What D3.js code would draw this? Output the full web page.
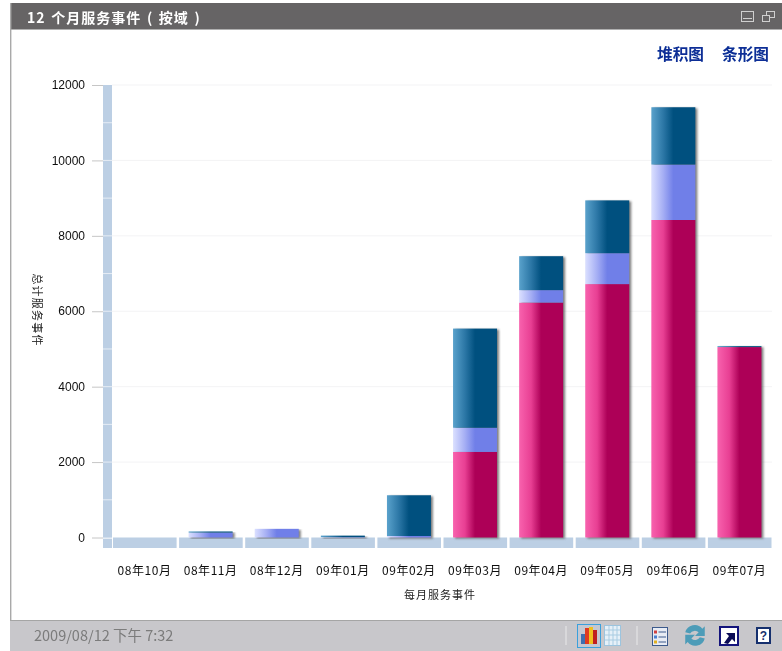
<!DOCTYPE html>
<html><head><meta charset="utf-8">
<script src="https://cdn.jsdelivr.net/npm/d3@7"></script>
<style>html,body{margin:0;padding:0;background:#fff;overflow:hidden}svg{display:block}</style>
</head><body><div id="c"></div>
<script>
const months=["08年10月","08年11月","08年12月","09年01月","09年02月","09年03月","09年04月","09年05月","09年06月","09年07月"];
const pinkValues=[0,0,0,0,0,2270,6230,6720,8420,5050];
const midValues=[0,130,230,10,40,640,330,820,1470,0];
const darkValues=[0,30,0,40,1080,2630,900,1400,1520,25];
const yTicks=[0,2000,4000,6000,8000,10000,12000];
const wallTicks=[1000,3000,5000,7000,9000,11000];
const chartTitle="12 个月服务事件 ( 按域 )";
const yTitle="总计服务事件";
const xTitle="每月服务事件";
const stamp="2009/08/12 下午 7:32";
const links=["堆积图","条形图"];

const W=782,H=651;
const svg=d3.select("#c").append("svg").attr("width",W).attr("height",H);
const defs=svg.append("defs");
const cjk="'Noto Sans CJK SC','Liberation Sans',sans-serif";
const lat="'Liberation Sans','Noto Sans CJK SC',sans-serif";
function grad(id,a,m,b){
  const g=defs.append("linearGradient").attr("id",id).attr("x1",0).attr("x2",1).attr("y1",0).attr("y2",0);
  g.append("stop").attr("offset",0).attr("stop-color",a);
  g.append("stop").attr("offset",.27).attr("stop-color",m);
  g.append("stop").attr("offset",.5).attr("stop-color",b);
  g.append("stop").attr("offset",1).attr("stop-color",b);
}
grad("gPink","#f862ae","#e83f93","#ad0057");
grad("gMid","#dbe0ff","#a5aef4","#707fe8");
grad("gDark","#5aa2cc","#2c77a6","#00507f");
const sh=defs.append("filter").attr("id","sh").attr("x","-20%").attr("y","-5%").attr("width","140%").attr("height","110%");
sh.append("feGaussianBlur").attr("stdDeviation",1.2);
const soft=defs.append("filter").attr("id","soft");
soft.append("feGaussianBlur").attr("stdDeviation",.35);

// frame
svg.append("rect").attr("x",10).attr("y",3).attr("width",772).attr("height",26).attr("fill","#666465");
svg.append("rect").attr("x",10).attr("y",29).attr("width",772).attr("height",1).attr("fill","#b0b0b0");
svg.append("rect").attr("x",10).attr("y",3).attr("width",1.4).attr("height",648).attr("fill","#a9a9a9");
svg.append("rect").attr("x",10).attr("y",620).attr("width",772).attr("height",31).attr("fill","#c8c7cb");
svg.append("rect").attr("x",10).attr("y",620).attr("width",772).attr("height",1).attr("fill","#a5a5a5");
const t=svg.append("g").attr("filter","url(#soft)");
t.append("text").attr("x",27).attr("y",23).attr("font-family",cjk).attr("font-weight",700).attr("font-size",14).attr("word-spacing",1.5).attr("letter-spacing",1).attr("fill","#fff").text(chartTitle);
t.append("text").attr("x",34).attr("y",641).attr("font-family",cjk).attr("font-size",14.5).attr("fill","#7b7b7b").text(stamp);

// window buttons
const wb=svg.append("g").attr("fill","none").attr("stroke","#cfcfcf").attr("stroke-width",1);
wb.append("rect").attr("x",741.5).attr("y",11.5).attr("width",12).attr("height",10);
wb.append("path").attr("d","M743 18.5H752");
wb.append("rect").attr("x",766.5).attr("y",11.5).attr("width",8).attr("height",6);
wb.append("rect").attr("x",762.5).attr("y",15.5).attr("width",7).attr("height",6).attr("fill","#666465");

// links
t.selectAll(".lnk").data(links).join("text").attr("class","lnk")
 .attr("x",(d,i)=>[657,722][i]).attr("y",60).attr("font-family",cjk).attr("font-weight",700)
 .attr("font-size",15.7).attr("fill","#0a2f96").text(d=>d);

// scales
const y=d3.scaleLinear().domain([0,12000]).range([537.5,85]);
const x=d3.scaleBand().domain(months).range([111.5,772.5]).paddingInner(0).paddingOuter(0);
const bw=44;
const bx=d=>x(d)+(x.bandwidth()-bw)/2;

// gridlines
svg.append("g").selectAll("line").data(yTicks.filter(d=>d>0)).join("line")
 .attr("x1",112).attr("x2",772).attr("y1",d=>y(d)).attr("y2",d=>y(d)).attr("stroke","#f3f3f5");

// wall + floor
svg.append("rect").attr("x",103).attr("y",y(12000)).attr("width",9).attr("height",548-y(12000)).attr("fill","#bccfe4");
svg.append("g").selectAll("rect").data(wallTicks.concat(yTicks.slice(1,-1))).join("rect")
 .attr("x",103).attr("width",9).attr("y",d=>y(d)-.5).attr("height",1).attr("fill","#e6edf5");
svg.append("rect").attr("x",103).attr("y",537.5).attr("width",9).attr("height",1.5).attr("fill","#e6edf5");
svg.append("g").selectAll("rect").data(months).join("rect")
 .attr("x",d=>x(d)+1.5).attr("width",x.bandwidth()-2.5).attr("y",537.5).attr("height",10.5).attr("fill","#bccfe4");

// y axis
const ya=d3.axisLeft(y).tickValues(yTicks).tickSize(11).tickPadding(7).tickFormat(d3.format("d"));
const yg=svg.append("g").attr("transform","translate(103,0)").call(ya);
yg.select(".domain").remove();
yg.selectAll("line").attr("stroke","#c6c6c6");
yg.selectAll("text").attr("font-family",lat).attr("font-size",12).attr("fill","#111").attr("dy",".3em").attr("filter","url(#soft)");

// x labels
const xa=d3.axisBottom(x).tickSize(0).tickPadding(0);
const xg=svg.append("g").attr("transform","translate(0,566)").call(xa);
xg.select(".domain").remove();
xg.selectAll("text").attr("font-family",cjk).attr("font-size",12).attr("letter-spacing",.55).attr("fill","#111").attr("dy","0.71em").attr("y",0).attr("filter","url(#soft)");

svg.append("text").attr("x",440).attr("y",599).attr("text-anchor","middle").attr("font-family",cjk).attr("font-size",11).attr("letter-spacing",1).attr("fill","#222").attr("filter","url(#soft)").text(xTitle);
svg.append("text").attr("transform","translate(33,310) rotate(90)").attr("text-anchor","middle").attr("font-family",cjk).attr("font-size",11).attr("letter-spacing",1.2).attr("fill","#222").attr("filter","url(#soft)").text(yTitle);

// bars
const rows=months.map((m,i)=>({m,pink:pinkValues[i],mid:midValues[i],dark:darkValues[i]}));
const keys=["pink","mid","dark"];
const fills={pink:"url(#gPink)",mid:"url(#gMid)",dark:"url(#gDark)"};
const stacked=d3.stack().keys(keys)(rows);
svg.append("g").selectAll("rect").data(rows.filter(r=>r.pink+r.mid+r.dark>0)).join("rect")
 .attr("x",d=>bx(d.m)+2).attr("width",bw).attr("y",d=>y(d.pink+d.mid+d.dark)+1)
 .attr("height",d=>y(0)-y(d.pink+d.mid+d.dark)).attr("fill","#555").attr("opacity",.75).attr("filter","url(#sh)");
stacked.forEach(s=>{
  svg.append("g").selectAll("rect").data(s.filter(d=>d[1]>d[0])).join("rect")
   .attr("x",d=>bx(d.data.m)).attr("width",bw)
   .attr("y",d=>y(d[1])).attr("height",d=>y(d[0])-y(d[1]))
   .attr("fill",fills[s.key]);
});

// footer separators
const sep=svg.append("g").attr("stroke","#e9e9ea");
[566,637].forEach(v=>sep.append("line").attr("x1",v).attr("x2",v).attr("y1",626).attr("y2",645));

// toolbar icons
const ic=svg.append("g");
ic.append("rect").attr("x",577.5).attr("y",624.5).attr("width",23).attr("height",23).attr("fill","#c4c8d2").attr("stroke","#3aa0dc");
[[581,634,4,"#3f6fb0"],[585,628,4,"#e03a20"],[589,627,4,"#f0c020"],[593,630,4,"#c02020"]].forEach(a=>
  ic.append("rect").attr("x",a[0]).attr("y",a[1]).attr("width",a[2]).attr("height",644-a[1]).attr("fill",a[3]));
ic.append("rect").attr("x",604.5).attr("y",625.5).attr("width",16).attr("height",20).attr("fill","#e6f0f8").attr("stroke","#9cc4de");
const gp=ic.append("g").attr("stroke","#a8cce2");
[609,613,617].forEach(v=>gp.append("line").attr("x1",v).attr("x2",v).attr("y1",626).attr("y2",645));
[630,635,640].forEach(v=>gp.append("line").attr("y1",v).attr("y2",v).attr("x1",605).attr("x2",620));
// list icon
ic.append("rect").attr("x",652.5).attr("y",627.5).attr("width",15).attr("height",18).attr("fill","#e8ecf4").attr("stroke","#3c5a8c");
[[632,"#d04040"],[637,"#4a7fd0"],[642,"#e0b020"]].forEach(a=>{
  ic.append("rect").attr("x",654).attr("y",a[0]-1.5).attr("width",3).attr("height",3).attr("fill",a[1]);
  ic.append("line").attr("x1",658.5).attr("x2",666).attr("y1",a[0]).attr("y2",a[0]).attr("stroke","#3c5a8c");
});
// refresh icon
const rf=ic.append("g").attr("transform","translate(695,636) scale(1.22) translate(-695,-636)");
rf.append("path").attr("d","M687 633a8 8 0 0 1 14-3l2-2v8h-8l3-3a4.5 4.5 0 0 0-7 1z").attr("fill","#4d9cb8");
rf.append("path").attr("d","M703 638a8 8 0 0 1-14 3l-2 2v-8h8l-3 3a4.5 4.5 0 0 0 7-1z").attr("fill","#4d9cb8");
// shortcut icon
ic.append("rect").attr("x",720).attr("y",627).attr("width",18).attr("height",18).attr("fill","#fff").attr("stroke","#14147c").attr("stroke-width",2);
ic.append("path").attr("d","M724 643l5-7-3-3h9v9l-3-3-4 5z").attr("fill","#0b0b55");
// help icon
ic.append("rect").attr("x",757).attr("y",628).attr("width",13).attr("height",15).attr("fill","#fff").attr("stroke","#16306e").attr("stroke-width",2);
ic.append("text").attr("x",763.5).attr("y",640).attr("text-anchor","middle").attr("font-family",lat).attr("font-weight",700).attr("font-size",12).attr("fill","#16306e").text("?");
</script></body></html>
